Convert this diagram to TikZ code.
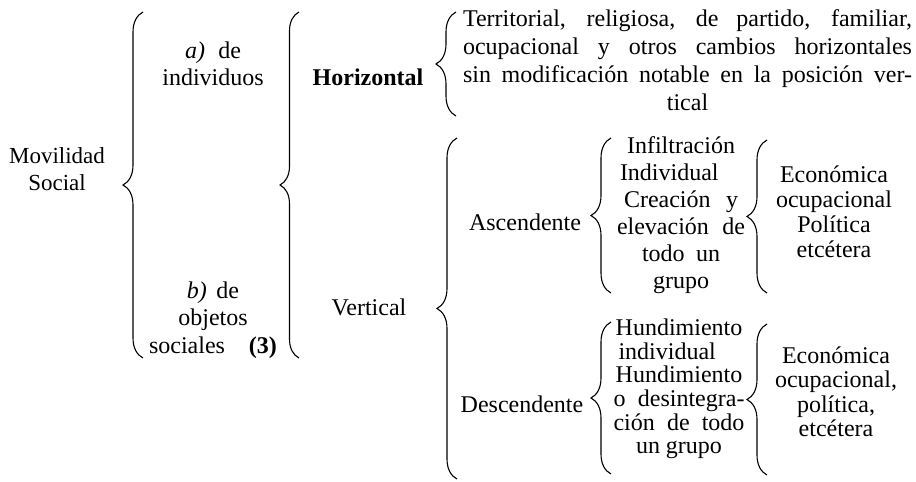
\documentclass[tikz,border=0pt]{standalone}
\usepackage{fontspec}
\setmainfont{Liberation Serif}
\usetikzlibrary{decorations.pathreplacing}
\tikzset{
  txt/.style={inner sep=0pt, align=center, font=\fontsize{24}{27}\selectfont},
  brc/.style={decorate, decoration={brace, amplitude=#1}, line width=1.1pt},
  brc/.default=20pt
}
\begin{document}
\begin{tikzpicture}[x=1pt, y=-1pt]
\useasboundingbox (0,0) rectangle (916,482);
% texts
\node[txt, font=\fontsize{23}{27}\selectfont] (mov) at (57,169) {Movilidad\\Social};
\node[txt] (ind) at (213,64) {\textit{a)}\hspace{0.55em}de\\individuos};
\node[txt, font=\fontsize{24}{27.5}\selectfont] (obj) at (213,320) {\textit{b)}\hspace{0.4em}de\\objetos\\sociales\quad\textbf{(3)}};
\node[txt, font=\fontsize{24}{27}\selectfont\bfseries] (hor) at (368,77) {Horizontal};
\node[txt, font=\fontsize{24}{28}\selectfont] (hdesc) at (687.5,60) {%
\makebox[449pt][s]{Territorial, religiosa, de partido, familiar,}\\
\makebox[449pt][s]{ocupacional y otros cambios horizontales}\\
\makebox[449pt][s]{sin modificación notable en la posición ver-}\\
tical};
\node[txt] (ver) at (369,307) {Vertical};
\node[txt] (asc) at (525,222) {Ascendente};
\node[txt] (desc) at (522,404) {Descendente};
\node[txt, font=\fontsize{24}{27}\selectfont] (ascT) at (681,215) {%
Infiltración\\
\makebox[128pt][l]{\hspace{3pt}Individual}\\
\makebox[114pt][s]{Creación y}\\
\makebox[128pt][s]{elevación de}\\
\makebox[78pt][s]{todo un}\\
grupo};
\node[txt, font=\fontsize{24}{25}\selectfont] (ascE) at (834,212) {Económica\\ocupacional\\Política\\etcétera};
\node[txt, font=\fontsize{24}{23.6}\selectfont] (descT) at (679,389) {%
Hundimiento\\
\makebox[131pt][l]{\hspace{5pt}individual}\\
Hundimiento\\
\makebox[131pt][s]{o desintegra-}\\
\makebox[131pt][s]{ción de todo}\\
un grupo};
\node[txt, font=\fontsize{24}{24.5}\selectfont] (descE) at (836,392) {Económica\\ocupacional,\\política,\\etcétera};
% brace end points
\coordinate (b1t) at (143,12);  \coordinate (b1b) at (143,358);
\coordinate (b2t) at (299,12);  \coordinate (b2b) at (299,358);
\coordinate (b3t) at (456,12);  \coordinate (b3b) at (456,116);
\coordinate (b4t) at (457,138); \coordinate (b4b) at (457,479);
\coordinate (b5t) at (611,138); \coordinate (b5b) at (611,293);
\coordinate (b6t) at (767,140); \coordinate (b6b) at (767,293);
\coordinate (b7t) at (611,322); \coordinate (b7b) at (611,474);
\coordinate (b8t) at (767,324); \coordinate (b8b) at (767,475);
% braces
\draw[brc] (b1b) -- (b1t);
\draw[brc=19pt] (b2b) -- (b2t);
\draw[brc] (b3b) -- (b3t);
\draw[brc] (b4b) -- (b4t);
\draw[brc] (b5b) -- (b5t);
\draw[brc] (b6b) -- (b6t);
\draw[brc] (b7b) -- (b7t);
\draw[brc] (b8b) -- (b8t);
\end{tikzpicture}
\end{document}
